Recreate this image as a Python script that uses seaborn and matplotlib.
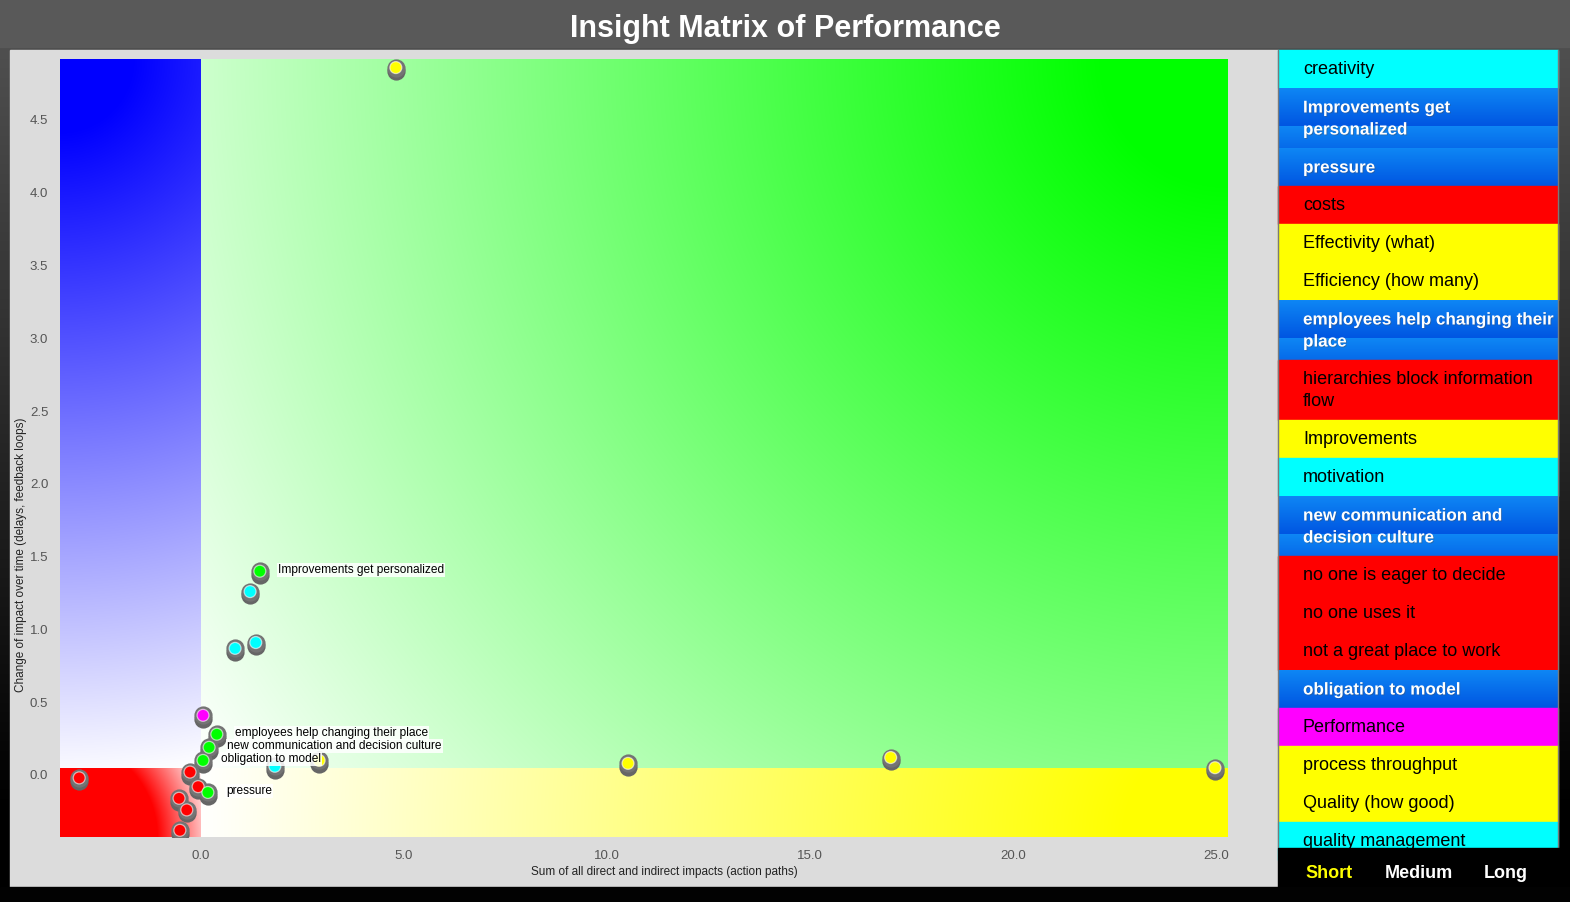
import numpy as np
import pandas as pd
import matplotlib
matplotlib.use("Agg")
import matplotlib.pyplot as plt
import seaborn as sns
from matplotlib.patches import Rectangle
from matplotlib.transforms import ScaledTranslation
import matplotlib.patheffects as pe

# ---------------- data ----------------
TITLE = "Insight Matrix of Performance"
X_LABEL = "Sum of all direct and indirect impacts (action paths)"
Y_LABEL = "Change of impact over time (delays, feedback loops)"

point_x = [4.80, 1.45, 1.21, 1.35, 0.84, 0.05, 0.39, 0.20, 0.05, 1.82, 2.91,
           -0.27, -0.07, 0.17, -0.54, -0.35, -0.52, -3.00, 10.52, 16.99, 24.98]
point_y = [4.86, 1.40, 1.26, 0.91, 0.87, 0.41, 0.28, 0.19, 0.10, 0.06, 0.10,
           0.02, -0.08, -0.12, -0.16, -0.24, -0.38, -0.02, 0.08, 0.12, 0.05]
point_color = ["yellow", "green", "cyan", "cyan", "cyan", "magenta", "green", "green",
               "green", "cyan", "yellow", "red", "red", "green", "red", "red", "red",
               "red", "yellow", "yellow", "yellow"]
point_label = ["", "Improvements get personalized", "", "", "", "",
               "employees help changing their place",
               "new communication and decision culture", "obligation to model",
               "", "", "", "", "pressure", "", "", "", "", "", "", ""]

x_ticks = [0.0, 5.0, 10.0, 15.0, 20.0, 25.0]
y_ticks = [0.0, 0.5, 1.0, 1.5, 2.0, 2.5, 3.0, 3.5, 4.0, 4.5]

legend_names = ["creativity", "Improvements get personalized", "pressure", "costs",
                "Effectivity (what)", "Efficiency (how many)",
                "employees help changing their place",
                "hierarchies block information flow", "Improvements", "motivation",
                "new communication and decision culture", "no one is eager to decide",
                "no one uses it", "not a great place to work", "obligation to model",
                "Performance", "process throughput", "Quality (how good)",
                "quality management"]
legend_colors = ["cyan", "blue", "blue", "red", "yellow", "yellow", "blue", "red",
                 "yellow", "cyan", "blue", "red", "red", "red", "blue", "magenta",
                 "yellow", "yellow", "cyan"]
horizon_options = ["Short", "Medium", "Long"]
horizon_colors = ["#ffff00", "white", "white"]

palette = {"yellow": "#ffff00", "green": "#00ff00", "cyan": "#00ffff",
           "magenta": "#ff00ff", "red": "#ff0000", "blue": "#0a6fe8"}

# ---------------- style ----------------
sns.set_theme(style="white")
plt.rcParams["font.family"] = ["Liberation Sans", "DejaVu Sans"]

W, H = 1570, 902
fig = plt.figure(figsize=(W / 100, H / 100), dpi=100)
renderer = fig.canvas.get_renderer()

# background / decoration axes in pixel coordinates
bg = fig.add_axes([0, 0, 1, 1], zorder=-5)
bg.set_xlim(0, W)
bg.set_ylim(H, 0)
bg.axis("off")
rows = np.arange(H)
lev = np.where(rows < 48, 0.35, np.clip(0.31 * (1 - (rows - 48) / 760.0), 0, 1))
grad = np.repeat(lev[:, None, None], 3, axis=2)
bg.imshow(grad, extent=(0, W, H, 0), aspect="auto", zorder=0)
bg.add_patch(Rectangle((10, 50), 1268, 837, color="#dcdcdc", zorder=1))

# legend panel
LX0, LX1, LY0, LY1 = 1278, 1558, 50, 848
blue_top = np.array([14, 134, 244]) / 255
blue_bot = np.array([0, 86, 226]) / 255


def text_width(s, **kw):
    t = fig.text(0, 0, s, **kw)
    w = t.get_window_extent(renderer).width
    t.remove()
    return w


def wrap(s, maxw, **kw):
    words = s.split()
    lines, cur = [], ""
    for w_ in words:
        cand = (cur + " " + w_).strip()
        if cur and text_width(cand, **kw) > maxw:
            lines.append(cur)
            cur = w_
        else:
            cur = cand
    lines.append(cur)
    return lines


y0 = LY0
for name, col in zip(legend_names, legend_colors):
    is_blue = col == "blue"
    if is_blue:
        kw = dict(fontsize=12.3, fontweight="bold")
    else:
        kw = dict(fontsize=13, fontweight="normal")
    lines = wrap(name, 255, **kw)
    h = 38 + 22 * (len(lines) - 1)
    if is_blue:
        t = (np.arange(h) % 38) / 37.0
        img = blue_top[None, :] * (1 - t[:, None]) + blue_bot[None, :] * t[:, None]
        bg.imshow(img[:, None, :], extent=(LX0, LX1, y0 + h, y0), aspect="auto", zorder=2)
    else:
        bg.add_patch(Rectangle((LX0, y0), LX1 - LX0, h, color=palette[col], zorder=2))
    for k, ln in enumerate(lines):
        if is_blue:
            bg.text(LX0 + 25, y0 + 20 + 22 * k, ln, color="white", va="center", ha="left",
                    zorder=3, path_effects=[pe.SimplePatchShadow(offset=(0.6, -0.6), alpha=0.4),
                                             pe.Normal()], **kw)
        else:
            bg.text(LX0 + 25, y0 + 20 + 22 * k, ln, color="black", va="center", ha="left",
                    zorder=3, **kw)
    y0 += h
bg.set_xlim(0, W)
bg.set_ylim(H, 0)
bg.plot([LX0, LX0], [LY0, LY1], color="#7a7a7a", lw=1, zorder=4)
bg.plot([LX1, LX1], [LY0, LY1], color="#7a7a7a", lw=1, zorder=4)
bg.add_patch(Rectangle((LX0, LY1), W - LX0, H - LY1, color="#000000", zorder=5))
bg.add_patch(Rectangle((0, 887), W, H - 887, color="#020202", zorder=5))
for lab, xc, c in zip(horizon_options, [1329, 1419, 1506], horizon_colors):
    bg.text(xc, 873, lab, color=c, fontsize=13, fontweight="bold", ha="center",
            va="center", zorder=6)

# title
fig.text(785 / W, 1 - 29 / H, TITLE, ha="center", va="center", color="white",
         fontsize=22, fontweight="bold")

# ---------------- main axes ----------------
AX_L, AX_R, AX_T, AX_B = 60, 1228, 59, 837
ax = fig.add_axes([AX_L / W, 1 - AX_B / H, (AX_R - AX_L) / W, (AX_B - AX_T) / H], zorder=1)
XMIN, XMAX, YMIN, YMAX = -3.473, 25.30, -0.426, 4.919
X_SPLIT, Y_SPLIT = 0.0, 0.05

# quadrant gradients
PW, PH = AX_R - AX_L, AX_B - AX_T
ii, jj = np.meshgrid(np.arange(PW) + 0.5, np.arange(PH) + 0.5)
sx = (X_SPLIT - XMIN) / (XMAX - XMIN) * PW
sy = (YMAX - Y_SPLIT) / (YMAX - YMIN) * PH
img = np.ones((PH, PW, 3))


def quad(mask, cx, cy, rgb, s):
    R = np.hypot(abs(cx - sx), abs(cy - sy))
    d = np.hypot(ii - cx, jj - cy) / R
    f = np.clip((d - s) / (1 - s), 0, 1)
    c = np.array(rgb)
    out = c[None, None, :] * (1 - f[..., None]) + f[..., None]
    img[mask] = out[mask]


quad((ii < sx) & (jj < sy), 0, 0, (0, 0, 1), 0.1)
quad((ii >= sx) & (jj < sy), PW, 0, (0, 1, 0), 0.1)
quad((ii >= sx) & (jj >= sy), PW, PH, (1, 1, 0), 0.1)
quad((ii < sx) & (jj >= sy), 0, PH, (1, 0, 0), 0.62)
ax.imshow(img, extent=(XMIN, XMAX, YMIN, YMAX), aspect="auto", origin="upper", zorder=0)

df = pd.DataFrame({"x": point_x, "y": point_y, "color": point_color})
shadow_tr = ax.transData + ScaledTranslation(0, -3.5 / 100, fig.dpi_scale_trans)
sns.scatterplot(data=df, x="x", y="y", ax=ax, s=172, color="#666666", linewidth=0,
                transform=shadow_tr, zorder=3, legend=False)
sns.scatterplot(data=df, x="x", y="y", ax=ax, s=172, color="#747474", linewidth=0,
                zorder=4, legend=False)
sns.scatterplot(data=df, x="x", y="y", hue="color", palette=palette, ax=ax, s=74,
                edgecolor=(1, 1, 1, 0.6), linewidth=0.9, zorder=5, legend=False)

for xv, yv, lab in zip(point_x, point_y, point_label):
    if lab:
        ax.annotate(lab, (xv, yv), xytext=(13, 1), textcoords="offset points",
                    ha="left", va="center", fontsize=8.6, color="black", zorder=6,
                    bbox=dict(boxstyle="square,pad=0.1", fc=(1, 1, 1, 0.85), ec="none"))

ax.set_xlim(XMIN, XMAX)
ax.set_ylim(YMIN, YMAX)
ax.set_xticks(x_ticks)
ax.set_xticklabels([f"{v:.1f}" for v in x_ticks])
ax.set_yticks(y_ticks)
ax.set_yticklabels([f"{v:.1f}" for v in y_ticks])
ax.tick_params(length=0, labelcolor="#555555", labelsize=9.5)
ax.tick_params(axis="x", pad=9.5)
ax.tick_params(axis="y", pad=8.5)
for sp in ax.spines.values():
    sp.set_visible(False)
ax.grid(False)
ax.set_xlabel(X_LABEL, fontsize=8.5, color="#222222")
ax.set_ylabel(Y_LABEL, fontsize=8.5, color="#222222")
ax.xaxis.label.set(va="center", ha="center")
ax.xaxis.set_label_coords((664 - AX_L) / PW, (AX_B - 872) / PH)
ax.yaxis.label.set(va="center", ha="center")
ax.yaxis.set_label_coords((21 - AX_L) / PW, (AX_B - 555) / PH)

fig.savefig("out.png", dpi=100)
